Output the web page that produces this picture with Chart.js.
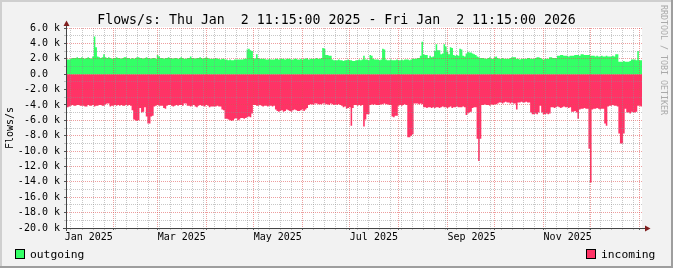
<!DOCTYPE html>
<html>
<head>
<meta charset="utf-8">
<script src="https://cdn.jsdelivr.net/npm/chart.js@4.4.1/dist/chart.umd.min.js"></script>
<style>
  html, body { margin: 0; padding: 0; background: #f2f2f2; }
  #wrap { width: 673px; height: 268px; position: relative; }
</style>
</head>
<body>
<div id="wrap"><canvas id="flowChart"></canvas></div>
<script>
// daily averages, Thu Jan 2 2025 11:15 -> Fri Jan 2 2026 11:15, in k flows/s
const outgoing = [
  1.9, 1.9, 2.0, 2.1, 2.1, 2.1, 2.2, 2.1, 2.1, 2.2,
  2.1, 2.0, 2.1, 2.2, 2.1, 2.0, 2.3, 4.9, 3.5, 2.3,
  2.2, 2.1, 2.2, 2.6, 2.2, 2.1, 2.2, 2.1, 2.0, 2.1,
  2.1, 2.2, 2.1, 2.1, 2.0, 2.1, 2.2, 2.2, 2.1, 2.1,
  2.0, 2.1, 2.0, 2.1, 2.2, 2.2, 2.1, 2.1, 2.0, 2.1,
  2.2, 2.1, 2.1, 2.0, 2.1, 2.1, 2.0, 2.5, 2.3, 2.1,
  2.1, 2.0, 2.1, 2.1, 2.2, 2.1, 2.1, 2.0, 2.1, 2.1,
  2.0, 2.1, 2.2, 2.1, 2.0, 2.0, 2.1, 2.1, 2.3, 2.1,
  2.1, 2.0, 2.1, 2.1, 2.2, 2.1, 2.0, 2.1, 2.2, 2.1,
  2.0, 2.0, 2.0, 2.0, 2.1, 2.0, 2.0, 1.9, 2.0, 2.0,
  1.9, 1.9, 1.8, 1.9, 1.8, 1.8, 1.9, 1.9, 1.9, 1.9,
  1.9, 1.9, 2.0, 2.0, 3.2, 3.3, 3.1, 3.0, 2.1, 2.0,
  2.6, 2.1, 2.0, 2.0, 2.0, 2.0, 1.9, 1.9, 2.0, 1.9,
  1.9, 1.9, 2.0, 2.0, 1.9, 2.0, 2.0, 2.0, 1.9, 2.0,
  2.0, 2.0, 1.9, 1.9, 2.0, 2.0, 1.9, 1.9, 2.0, 1.9,
  2.0, 2.0, 2.1, 1.9, 2.0, 2.0, 2.0, 2.0, 2.1, 2.0,
  2.0, 2.1, 3.4, 3.3, 2.5, 2.5, 2.4, 2.4, 1.9, 1.8,
  1.8, 1.8, 1.9, 1.8, 1.8, 1.7, 1.8, 1.8, 1.9, 1.8,
  1.8, 1.7, 1.7, 1.8, 1.8, 1.9, 1.8, 1.9, 2.4, 1.9,
  1.9, 1.8, 2.5, 2.4, 2.0, 1.9, 1.9, 1.9, 1.8, 1.9,
  3.3, 3.2, 1.9, 1.8, 1.8, 1.9, 1.8, 1.8, 1.8, 1.9,
  1.8, 1.8, 1.9, 1.8, 1.9, 1.9, 1.9, 1.8, 1.9, 2.0,
  2.0, 2.0, 2.1, 2.1, 2.4, 4.2, 2.6, 2.5, 2.5, 2.1,
  2.4, 2.2, 2.3, 3.0, 3.9, 3.1, 3.1, 2.6, 2.7, 3.9,
  3.6, 2.9, 2.6, 3.5, 3.4, 2.5, 2.4, 2.5, 2.4, 3.3,
  3.2, 2.4, 2.3, 2.7, 2.9, 2.8, 2.8, 2.7, 2.6, 2.5,
  2.3, 2.2, 2.1, 2.1, 2.1, 2.0, 2.0, 2.1, 2.2, 2.0,
  2.0, 2.2, 2.3, 2.1, 2.0, 2.0, 2.1, 2.0, 2.0, 2.0,
  2.0, 2.1, 2.2, 2.2, 2.2, 2.0, 2.0, 1.9, 2.0, 2.0,
  2.0, 2.0, 2.1, 2.1, 2.0, 2.0, 2.0, 2.1, 2.2, 2.2,
  2.1, 2.0, 1.9, 2.0, 2.0, 2.0, 2.2, 2.2, 2.1, 2.1,
  2.1, 2.4, 2.4, 2.5, 2.5, 2.4, 2.4, 2.4, 2.3, 2.4,
  2.4, 2.4, 2.5, 2.5, 2.5, 2.4, 2.6, 2.6, 2.5, 2.5,
  2.5, 2.5, 2.4, 2.4, 2.4, 2.3, 2.4, 2.3, 2.3, 2.4,
  2.3, 2.3, 2.4, 2.3, 2.3, 2.3, 2.4, 2.3, 2.6, 2.6,
  1.6, 1.6, 1.6, 1.7, 1.6, 1.6, 1.6, 1.7, 1.9, 1.9,
  1.9, 1.8, 3.0, 1.8, 1.8
];

const incoming = [
  -4.3, -4.2, -4.1, -4.0, -4.1, -4.1, -4.0, -4.0, -4.1, -4.1,
  -4.1, -4.2, -4.2, -4.0, -4.1, -4.1, -4.0, -4.2, -4.1, -4.1,
  -4.0, -4.0, -4.1, -4.1, -3.9, -3.8, -3.8, -4.2, -4.1, -4.1,
  -4.0, -4.1, -4.0, -4.1, -4.0, -4.1, -4.1, -4.0, -4.1, -4.0,
  -4.1, -4.7, -5.9, -6.0, -6.1, -6.0, -4.4, -5.0, -4.9, -4.3,
  -5.5, -6.4, -6.4, -5.5, -5.4, -4.2, -4.1, -4.0, -4.1, -4.1,
  -4.1, -4.4, -4.5, -4.1, -4.0, -4.0, -4.1, -4.2, -4.1, -4.0,
  -4.1, -4.0, -4.0, -4.1, -3.8, -3.8, -4.1, -4.1, -4.2, -4.1,
  -4.0, -4.2, -4.3, -4.1, -4.0, -4.1, -4.1, -4.2, -4.0, -4.1,
  -4.3, -4.2, -4.2, -4.2, -4.2, -4.1, -4.2, -4.2, -4.6, -4.7,
  -5.8, -5.8, -5.9, -6.0, -6.1, -6.0, -5.8, -5.7, -6.0, -5.9,
  -5.7, -5.7, -5.8, -5.7, -5.6, -5.5, -5.6, -5.1, -4.0, -4.0,
  -4.1, -4.1, -4.0, -4.1, -4.2, -4.1, -4.1, -4.2, -4.1, -4.1,
  -4.2, -4.1, -4.6, -4.8, -4.9, -4.8, -4.7, -4.9, -4.8, -4.6,
  -4.7, -4.8, -4.9, -4.7, -4.6, -4.7, -4.8, -4.8, -4.7, -4.6,
  -4.8, -4.6, -4.4, -4.0, -3.9, -3.9, -4.0, -3.8, -3.8, -3.9,
  -3.9, -3.9, -3.8, -3.8, -3.9, -3.9, -4.0, -3.8, -3.9, -4.0,
  -3.9, -4.0, -3.9, -4.0, -4.1, -4.3, -4.2, -4.5, -4.4, -4.3,
  -6.7, -4.4, -4.0, -4.0, -4.1, -4.0, -4.1, -4.0, -6.8, -5.9,
  -5.2, -5.2, -4.0, -3.9, -4.0, -3.9, -4.0, -4.0, -4.0, -3.9,
  -3.9, -3.8, -3.9, -3.9, -4.0, -4.0, -5.5, -5.6, -5.4, -5.4,
  -4.1, -4.0, -4.1, -4.0, -3.9, -4.0, -8.2, -8.2, -8.0, -7.8,
  -3.8, -3.8, -3.8, -3.9, -3.8, -3.9, -4.3, -4.3, -4.4, -4.3,
  -4.3, -4.4, -4.3, -4.4, -4.3, -4.3, -4.4, -4.3, -4.2, -4.3,
  -4.3, -4.4, -4.3, -4.2, -4.4, -4.3, -4.3, -4.2, -4.3, -4.3,
  -4.3, -4.2, -4.3, -5.3, -5.1, -5.0, -4.9, -4.4, -4.3, -4.3,
  -8.4, -11.3, -8.4, -4.0, -4.0, -3.9, -4.0, -4.0, -4.1, -3.9,
  -4.0, -3.9, -3.9, -3.8, -3.7, -3.7, -3.8, -3.7, -3.6, -3.7,
  -3.7, -3.8, -3.7, -3.8, -3.8, -4.6, -3.7, -3.7, -3.6, -3.7,
  -3.7, -3.6, -3.7, -3.7, -5.0, -5.2, -5.2, -5.1, -5.2, -5.0,
  -4.1, -5.0, -5.2, -5.2, -5.1, -5.2, -5.1, -4.3, -4.3, -4.4,
  -4.3, -4.2, -4.3, -4.4, -4.3, -4.2, -4.3, -4.3, -4.4, -4.3,
  -4.9, -4.9, -4.8, -5.0, -5.8, -4.6, -4.5, -4.5, -4.4, -4.5,
  -4.5, -9.7, -14.1, -4.6, -4.5, -4.5, -4.4, -4.5, -4.6, -4.5,
  -4.5, -6.4, -6.7, -4.2, -4.1, -4.1, -4.0, -4.1, -4.1, -4.2,
  -7.7, -9.0, -9.0, -7.7, -4.5, -5.0, -5.0, -5.1, -4.9, -5.0,
  -5.0, -4.9, -4.1, -4.1, -4.2
];

// one label per month boundary, Jan 2025 .. Jan 2026
const monthLabels = ["Jan 2025", "", "Mar 2025", "", "May 2025", "", "Jul 2025", "",
                     "Sep 2025", "", "Nov 2025", "", ""];
const legendNames = ["outgoing", "incoming"];
const seriesColors = ["#33ff66", "#ff3366"];
const titleText = "Flows/s: Thu Jan  2 11:15:00 2025 - Fri Jan  2 11:15:00 2026";

const START = Date.UTC(2025, 0, 2, 11, 15);
const DAY = 86400000;
const toDay = t => (t - START) / DAY;

// x ticks: month starts (major) and sundays (minor)
const xTicks = [];
monthLabels.forEach((name, i) => {
  xTicks.push({ value: toDay(Date.UTC(2025, i, 1)), month: true, name: name });
});
for (let t = Date.UTC(2025, 0, 5); t < START + 365 * DAY; t += 7 * DAY) {
  if (new Date(t).getUTCDate() !== 1) xTicks.push({ value: toDay(t), month: false, name: "" });
}
xTicks.sort((a, b) => a.value - b.value);

const GRID = "rgba(143,143,143,0.5)";
const MGRID = "rgba(222,79,79,0.55)";
const MONO = "'DejaVu Sans Mono', monospace";

// step areas, each day's value held until the next day
function toSteps(values) {
  const pts = values.map((v, i) => ({ x: i, y: v }));
  pts.push({ x: values.length, y: values[values.length - 1] });
  return pts;
}

const rrdDecor = {
  id: "rrdDecor",
  beforeDraw(chart) {
    const { ctx, chartArea: a } = chart;
    ctx.save();
    ctx.fillStyle = "#f2f2f2";
    ctx.fillRect(0, 0, chart.width, chart.height);
    ctx.fillStyle = "#ffffff";
    ctx.fillRect(a.left, a.top - 1, a.right - a.left, a.bottom - a.top + 1);
    // title, centred on the whole image
    ctx.font = "13.25px " + MONO;
    ctx.fillStyle = "#000";
    ctx.textAlign = "center";
    ctx.textBaseline = "alphabetic";
    ctx.fillText(titleText, chart.width / 2, 23.5);
    ctx.restore();
  },
  afterDraw(chart) {
    const { ctx, chartArea: a } = chart;
    ctx.save();
    // axes
    ctx.strokeStyle = "#444";
    ctx.lineWidth = 1;
    ctx.beginPath();
    ctx.moveTo(a.left - 0.5, a.bottom + 3);
    ctx.lineTo(a.left - 0.5, a.top - 2);
    ctx.moveTo(a.left - 4, a.bottom + 0.5);
    ctx.lineTo(a.right + 4, a.bottom + 0.5);
    ctx.stroke();
    ctx.fillStyle = "#801f1f";
    ctx.beginPath();
    ctx.moveTo(a.left - 3.5, a.top - 2);
    ctx.lineTo(a.left + 2.5, a.top - 2);
    ctx.lineTo(a.left - 0.5, a.top - 7.5);
    ctx.closePath();
    ctx.fill();
    ctx.beginPath();
    ctx.moveTo(a.right + 3, a.bottom - 2.5);
    ctx.lineTo(a.right + 3, a.bottom + 3.5);
    ctx.lineTo(a.right + 8.5, a.bottom + 0.5);
    ctx.closePath();
    ctx.fill();

    // legend
    ctx.font = "11.3px " + MONO;
    ctx.textBaseline = "middle";
    const spots = [[15.5, 30], [586.5, 601]];
    legendNames.forEach((name, i) => {
      ctx.fillStyle = seriesColors[i];
      ctx.fillRect(spots[i][0], 249.5, 9, 9);
      ctx.strokeStyle = "#000";
      ctx.strokeRect(spots[i][0], 249.5, 9, 9);
      ctx.fillStyle = "#000";
      ctx.fillText(name, spots[i][1], 255);
    });

    // watermark
    ctx.save();
    ctx.translate(663.5, 5);
    ctx.rotate(Math.PI / 2);
    ctx.font = "8.3px " + MONO;
    ctx.fillStyle = "#aaaaaa";
    ctx.textBaseline = "middle";
    ctx.fillText("RRDTOOL / TOBI OETIKER", 0, 0);
    ctx.restore();

    // frame
    ctx.fillStyle = "#cfcfcf";
    ctx.fillRect(0, 0, chart.width, 2);
    ctx.fillRect(0, 0, 2, chart.height);
    ctx.fillStyle = "#9e9e9e";
    ctx.fillRect(0, chart.height - 2, chart.width, 2);
    ctx.fillRect(chart.width - 2, 0, 2, chart.height);
    ctx.restore();
  }
};

Chart.defaults.font.family = MONO;
Chart.defaults.font.size = 10;
Chart.defaults.color = "#000";

new Chart(document.getElementById("flowChart"), {
  type: "line",
  data: {
    datasets: [
      {
        label: legendNames[0],
        data: toSteps(outgoing),
        stepped: true,
        fill: "origin",
        backgroundColor: seriesColors[0],
        borderColor: "rgba(0,0,0,0)",
        borderWidth: 0,
        pointRadius: 0
      },
      {
        label: legendNames[1],
        data: toSteps(incoming),
        stepped: true,
        fill: "origin",
        backgroundColor: seriesColors[1],
        borderColor: "rgba(0,0,0,0)",
        borderWidth: 0,
        pointRadius: 0
      }
    ]
  },
  options: {
    responsive: true,
    maintainAspectRatio: false,
    animation: false,
    events: [],
    layout: { padding: { left: 0, right: 31, top: 28, bottom: 0 } },
    plugins: {
      legend: { display: false },
      tooltip: { enabled: false },
      title: { display: false }
    },
    scales: {
      x: {
        type: "linear",
        min: 0,
        max: 365,
        afterBuildTicks: s => { s.ticks = xTicks.map(t => Object.assign({}, t)); },
        afterFit: s => { s.height = 40; },
        grid: {
          z: 1,
          tickLength: 2,
          color: c => c.tick.value < 0 ? "rgba(0,0,0,0)" : (c.tick.month ? MGRID : GRID),
          tickColor: c => c.tick.value < 0 ? "rgba(0,0,0,0)" : (c.tick.month ? "#666" : GRID)
        },
        border: { display: false, dash: [1, 1] },
        ticks: {
          autoSkip: false,
          maxRotation: 0,
          align: "start",
          padding: 1,
          callback: (v, i, ts) => ts[i].name
        }
      },
      y: {
        min: -20,
        max: 6,
        afterFit: s => { s.width = 67; },
        grid: {
          z: 1,
          tickLength: 3,
          color: c => Math.round(c.tick.value) % 2 === 0 ? MGRID : GRID,
          tickColor: c => Math.round(c.tick.value) % 2 === 0 ? "#555" : GRID
        },
        border: { display: false, dash: [1, 1] },
        ticks: {
          stepSize: 1,
          autoSkip: false,
          padding: 4,
          callback: v => {
            const n = Math.round(v);
            if (n === 0) return "0.0  ";
            return n % 2 === 0 ? n.toFixed(1) + " k" : "";
          }
        },
        title: {
          display: true,
          text: "Flows/s",
          font: { family: MONO, size: 10 },
          padding: { top: 4, bottom: 0 }
        }
      }
    }
  },
  plugins: [rrdDecor]
});
</script>
</body>
</html>
